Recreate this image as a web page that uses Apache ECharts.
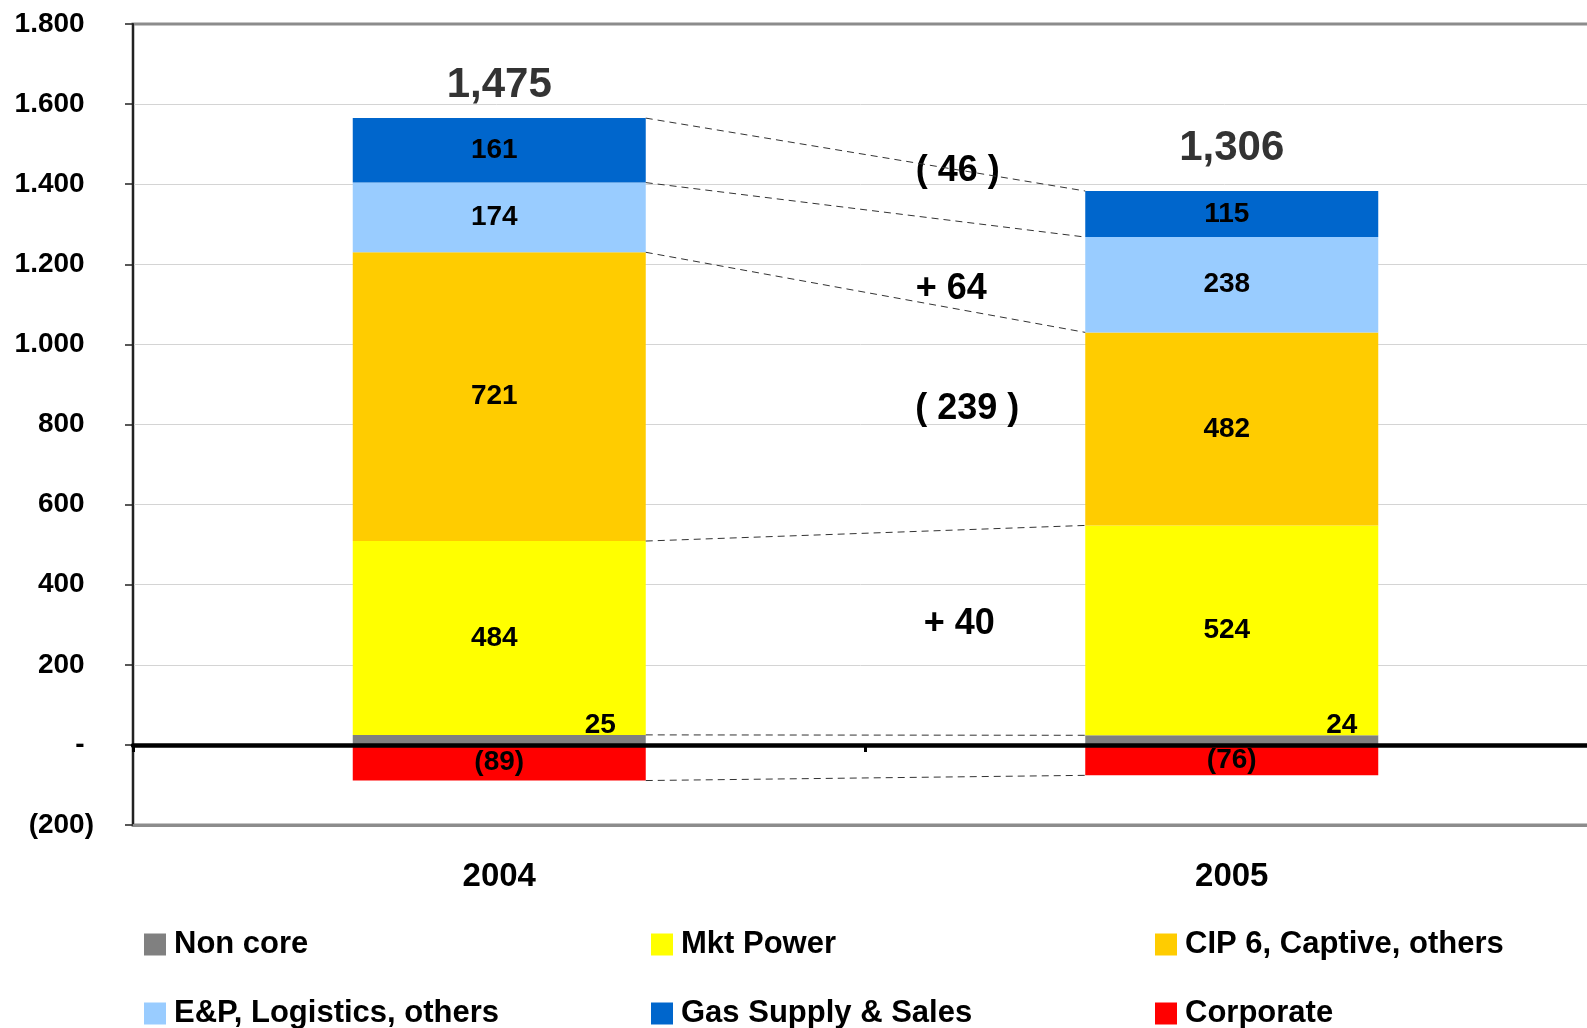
<!DOCTYPE html>
<html>
<head>
<meta charset="utf-8">
<script src="https://cdn.jsdelivr.net/npm/echarts@6/dist/echarts.min.js"></script>
<style>
  html, body { margin: 0; padding: 0; background: #fff; }
  #chart { width: 1587px; height: 1028px; }
</style>
</head>
<body>
<div id="chart"></div>
<script>
const years = ["2004", "2005"];
const nonCore = [25, 24];
const mktPower = [484, 524];
const cip6 = [721, 482];
const exploration = [174, 238];
const gasSupply = [161, 115];
const corporate = [-89, -76];
const totals = [1475, 1306];
const yTickLabels = ["(200)", "-", "200", "400", "600", "800", "1.000", "1.200", "1.400", "1.600", "1.800"];

const FONT = "'Liberation Sans', Arial, sans-serif";
const Y_MIN = -200, Y_MAX = 1800, Y_STEP = 200;
const BAR_FRAC = 0.4;

const chart = echarts.init(document.getElementById("chart"));

const stackDefs = [
  { name: "Non core", data: nonCore, color: "#808080" },
  { name: "Mkt Power", data: mktPower, color: "#FFFF00" },
  { name: "CIP 6, Captive, others", data: cip6, color: "#FFCC00" },
  { name: "E&P, Logistics, others", data: exploration, color: "#99CCFF" },
  { name: "Gas Supply & Sales", data: gasSupply, color: "#0066CC" },
  { name: "Corporate", data: corporate, color: "#FF0000" },
];

// stacked tops of the positive segments, plus the bottom of the negative one
const cum = [0, 0];
const boundaries = [];
stackDefs.slice(0, 5).forEach((s) => {
  s.data.forEach((v, i) => (cum[i] += v));
  boundaries.push(cum.slice());
});
boundaries.push(corporate.slice());
const stackTop = cum.slice();

// label tweaks (not data)
const nonCoreLabelDx = [101, 110];
const totalLabelDist = [12, 22];
// where the change labels sit: [x on 0..2 scale, y in chart units]
const diffAnchors = [[1.128, 301], [1.139, 839], [1.117, 1138], [1.126, 1433]];

const labelFont = { fontFamily: FONT, fontWeight: "bold", color: "#000" };

const barSeries = stackDefs.map((s, k) => {
  const ser = {
    name: s.name,
    type: "bar",
    stack: "total",
    barWidth: BAR_FRAC * 100 + "%",
    itemStyle: { color: s.color },
    label: { show: true, position: "inside", fontSize: 28, ...labelFont,
      offset: k === 5 ? [0, 0] : [-5, 0],
      formatter: (p) => (p.value < 0 ? "(" + Math.abs(p.value) + ")" : String(p.value)) },
    data: s.data.slice(),
  };
  if (k === 0) {
    ser.data = s.data.map((v, i) => ({
      value: v,
      label: { position: "top", distance: -4, offset: [nonCoreLabelDx[i], 0] },
    }));
  }
  return ser;
});

const x0 = 0.5 + BAR_FRAC / 2, x1 = 1.5 - BAR_FRAC / 2;
const connectorSeries = boundaries.map((b) => ({
  type: "line",
  xAxisIndex: 2,
  symbol: "none",
  silent: true,
  lineStyle: { color: "#333", width: 1, type: [7, 5] },
  data: [[x0, b[0]], [x1, b[1]]],
}));

const diffSegments = [mktPower, cip6, exploration, gasSupply];
const diffSeries = {
  type: "scatter",
  xAxisIndex: 2,
  symbolSize: 0,
  silent: true,
  itemStyle: { color: "transparent", opacity: 1 },
  label: { show: true, position: "inside", fontSize: 36, ...labelFont,
    formatter: (p) => p.data[2] },
  data: diffSegments.map((seg, i) => {
    const d = seg[1] - seg[0];
    const txt = d < 0 ? "( " + Math.abs(d) + " )" : "+ " + d;
    return [diffAnchors[i][0], diffAnchors[i][1], txt];
  }),
};

const totalSeries = {
  type: "scatter",
  xAxisIndex: 0,
  symbolSize: 0,
  silent: true,
  itemStyle: { color: "transparent", opacity: 1 },
  data: stackTop.map((v, i) => ({
    value: v,
    label: {
      show: true, position: "top", distance: totalLabelDist[i],
      fontFamily: FONT, fontWeight: "bold", fontSize: 42, color: "#333",
      formatter: () => totals[i].toLocaleString("en-US"),
    },
  })),
};

// one legend per entry so the 3x2 layout lines up in columns
const legendCols = [144, 651, 1155];
const legendRows = [929, 998];
const legends = stackDefs.map((s, k) => ({
  left: legendCols[k % 3],
  top: legendRows[Math.floor(k / 3)],
  padding: 0,
  itemWidth: 22,
  itemHeight: 22,
  icon: "rect",
  data: [s.name],
  textStyle: { fontFamily: FONT, fontSize: 31, fontWeight: "bold", color: "#000", lineHeight: 30, padding: [0, 0, 0, 3] },
}));

const option = {
  animation: false,
  backgroundColor: "#fff",
  textStyle: { fontFamily: FONT },
  grid: { left: 133, right: -11, top: 24, bottom: 203, outerBoundsMode: "none",
    show: true, borderColor: "#8c8c8c", borderWidth: 3 },
  legend: legends,
  xAxis: [
    {
      type: "category",
      data: years,
      position: "bottom",
      axisLine: { onZero: false, lineStyle: { color: "#8c8c8c", width: 3 } },
      axisTick: { show: false },
      axisLabel: { margin: 35, fontSize: 33, fontWeight: "bold", color: "#000", fontFamily: FONT },
    },
    {
      type: "category",
      data: years,
      position: "bottom",
      z: 10,
      axisLine: { onZero: true, lineStyle: { color: "#000", width: 4.5 } },
      axisTick: { show: true, length: 7, lineStyle: { color: "#000", width: 3 } },
      axisLabel: { show: false },
    },
    { type: "value", min: 0, max: 2, show: false },
  ],
  yAxis: {
    type: "value",
    min: Y_MIN,
    max: Y_MAX,
    interval: Y_STEP,
    axisLine: { show: true, onZero: false, lineStyle: { color: "#222", width: 2 } },
    axisTick: { show: true, length: 8, lineStyle: { color: "#222", width: 1.5 } },
    splitLine: { show: true, showMinLine: false, showMaxLine: false, lineStyle: { color: "#d4d4d4", width: 1 } },
    axisLabel: {
      margin: 39,
      formatter: (v) => {
        const t = yTickLabels[Math.round((v - Y_MIN) / Y_STEP)];
        return t.startsWith("(") ? "{v|" + t + "}" : "{v|" + t + "}{p|)}";
      },
      rich: {
        v: { fontFamily: FONT, fontSize: 28, fontWeight: "bold", color: "#000" },
        p: { fontFamily: FONT, fontSize: 28, fontWeight: "bold", color: "transparent" },
      },
    },
  },
  series: [...barSeries, ...connectorSeries, diffSeries, totalSeries],
};

chart.setOption(option);
</script>
</body>
</html>
